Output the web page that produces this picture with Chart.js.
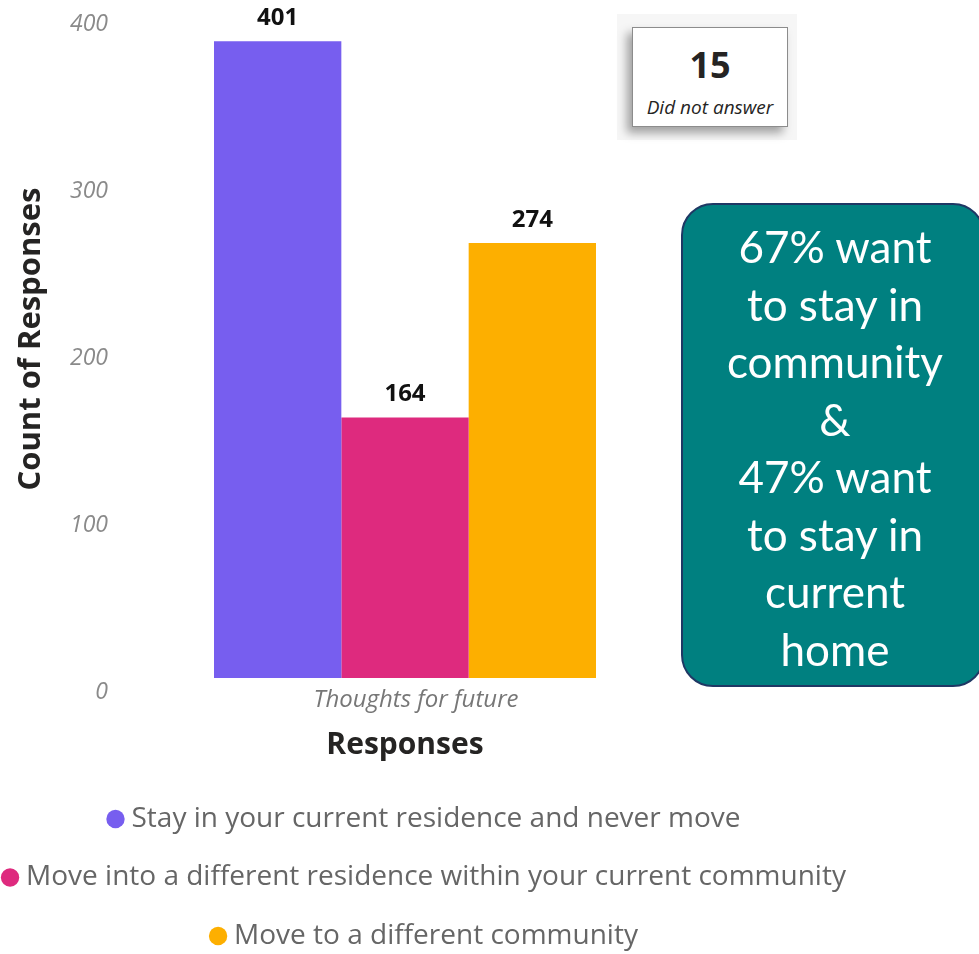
<!DOCTYPE html>
<html>
<head>
<meta charset="utf-8">
<script src="https://cdn.jsdelivr.net/npm/chart.js@4.4.1/dist/chart.umd.min.js"></script>
<style>
  body { margin: 0; background: #fff; overflow: hidden; }
  #wrap { position: relative; width: 979px; height: 954px; overflow: hidden; }
  #cardBg { position: absolute; left: 617px; top: 14px; width: 180px; height: 126px; background: #f6f6f6; }
  #card { position: absolute; left: 632px; top: 27px; width: 154px; height: 98px; background: #fff;
          border: 1px solid #8c8c8c; box-shadow: -5px 6px 9px rgba(0,0,0,0.35);
          font-family: "Open Sans", sans-serif; color: #252423; text-align: center; }
  #card .num { position: absolute; left: 0; right: 0; top: 14px; font-size: 36px; font-weight: bold; line-height: 46px; }
  #card .sub { position: absolute; left: 0; right: 0; top: 66px; font-size: 19px; font-style: italic; line-height: 26px; }
  #note { position: absolute; left: 681px; top: 203px; width: 300px; height: 480px; background: #008080;
          border: 2px solid #1f3864; border-radius: 32px; }
  #noteText { position: absolute; left: 685px; top: 218px; width: 300px; text-align: center; color: #fff;
              font-family: Lato, sans-serif; font-size: 44px; line-height: 57.5px; }
</style>
</head>
<body>
<div id="wrap">
  <canvas id="responsesChart" width="979" height="954"></canvas>
  <div id="cardBg"></div>
  <div id="card"><div class="num">15</div><div class="sub">Did not answer</div></div>
  <div id="note"></div>
  <div id="noteText">67% want<br>to stay in<br>community<br>&amp;<br>47% want<br>to stay in<br>current<br>home</div>
</div>
<script>
// chart data
const categories = ["Thoughts for future"];
const seriesNames = [
  "Stay in your current residence and never move",
  "Move into a different residence within your current community",
  "Move to a different community",
];
const stayValues = [401];
const moveWithinValues = [164];
const moveAwayValues = [274];
const yTickValues = [0, 100, 200, 300, 400];

// value labels above the bars
const barValueLabels = {
  id: "barValueLabels",
  afterDatasetsDraw(chart) {
    const ctx = chart.ctx;
    ctx.save();
    ctx.font = "bold 24px 'Open Sans', sans-serif";
    ctx.fillStyle = "#111";
    ctx.textAlign = "center";
    ctx.textBaseline = "middle";
    chart.data.datasets.forEach((ds, i) => {
      chart.getDatasetMeta(i).data.forEach((bar, j) => {
        ctx.fillText(ds.data[j], bar.x, bar.y - 23);
      });
    });
    ctx.restore();
  },
};

const ctx = document.getElementById("responsesChart").getContext("2d");
let responsesChart = new Chart(ctx, {
  type: "bar",
  data: {
    labels: categories,
    datasets: [
      { label: seriesNames[0], data: stayValues, backgroundColor: "#775eef" },
      { label: seriesNames[1], data: moveWithinValues, backgroundColor: "#de2a7e" },
      { label: seriesNames[2], data: moveAwayValues, backgroundColor: "#fdaf00" },
    ],
  },
  options: {
    responsive: false,
    animation: false,
    categoryPercentage: 0.749,
    barPercentage: 1,
    layout: { padding: { top: 0, bottom: -6, left: 0, right: 125 } },
    scales: {
      x: {
        grid: { display: false, drawTicks: false },
        border: { display: false },
        ticks: {
          color: "#777",
          padding: 8,
          labelOffset: 11,
          font: { family: "'Open Sans', sans-serif", size: 24, style: "italic" },
        },
        title: {
          display: true,
          text: "Responses",
          color: "#252423",
          font: { family: "'Open Sans', sans-serif", size: 30, weight: "bold" },
          padding: { top: 0, bottom: 11 },
        },
        afterFit(scale) {
          scale.height = 96.5;
        },
      },
      y: { display: false, min: 0, max: 426.95 },
      // tick labels sit on their own scale, as in the source picture
      yTicks: {
        type: "linear",
        position: "left",
        min: 8.68,
        max: 414.43,
        grid: { display: false, drawTicks: true, tickLength: 42 },
        border: { display: false },
        ticks: {
          stepSize: 100,
          color: "#8a8a8a",
          padding: 0,
          font: { family: "'Open Sans', sans-serif", size: 23, style: "italic", lineHeight: 0.01 },
        },
        afterBuildTicks(scale) {
          scale.ticks = yTickValues.map((v) => ({ value: v }));
        },
        title: {
          display: true,
          text: "Count of Responses",
          color: "#252423",
          font: { family: "'Open Sans', sans-serif", size: 31, weight: "bold" },
          padding: { top: 13, bottom: 0 },
        },
        afterFit(scale) {
          scale.width = 150;
        },
      },
      yRight: {
        type: "linear",
        position: "right",
        grid: { display: false, drawTicks: false },
        border: { display: false },
        ticks: { display: false },
        afterFit(scale) {
          scale.width = 194;
        },
      },
    },
    plugins: {
      tooltip: { enabled: false },
      legend: {
        position: "bottom",
        labels: {
          usePointStyle: true,
          pointStyle: "circle",
          boxWidth: 4,
          boxHeight: 13,
          padding: 30.5,
          color: "#666",
          font: { family: "'Open Sans', sans-serif", size: 28 },
        },
      },
    },
  },
  plugins: [barValueLabels],
});
</script>
</body>
</html>
